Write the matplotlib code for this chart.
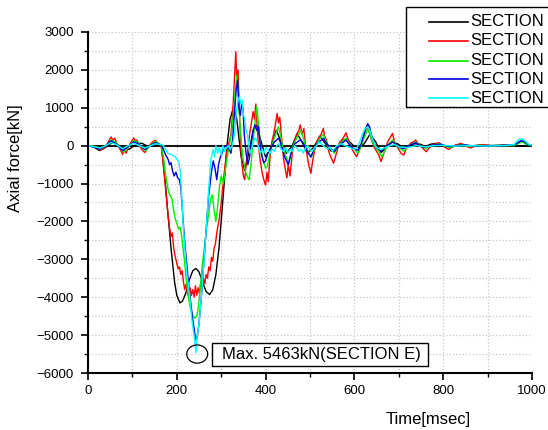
import matplotlib
matplotlib.use("Agg")
import matplotlib.pyplot as plt
from matplotlib.patches import Ellipse, Rectangle
from matplotlib.lines import Line2D
from matplotlib.ticker import MultipleLocator

plt.rcParams['font.family'] = ['Liberation Sans', 'DejaVu Sans']

# ---------------- data (time [msec], axial force [kN]) ----------------
t_a = [0, 12, 26, 38, 48, 58, 68, 80, 92, 102, 112, 122, 135, 145, 155, 165,
       170, 175, 180, 187, 195, 200, 207, 213, 220, 228, 236, 243, 250, 258, 266, 274,
       281, 288, 295, 302, 308, 313, 320, 328, 335, 345, 353, 362, 372, 380, 390, 400,
       410, 424, 435, 447, 460, 471, 482, 494, 508, 522, 535, 548, 560, 573, 585, 598,
       610, 622, 635, 648, 660, 672, 685, 697, 710, 722, 735, 748, 760, 772, 785, 798,
       815, 835, 860, 885, 910, 940, 970, 1000]
v_a = [0, -30, -130, -60, 40, 80, 20, -60, -100, -20, 60, 60, -20, 0, 20, 0,
       -500, -1100, -1800, -2700, -3600, -3950, -4150, -4100, -3900, -3550, -3300, -3240, -3330, -3600, -3850, -3930,
       -3800, -3400, -2700, -1700, -800, 0, 700, 1030, 700, -300, -650, -200, 400, 540, 100, -300,
       -100, 410, 100, -200, 0, 320, 100, -200, -50, 250, 50, -150, -50, 150, 150, 0,
       -50, 50, 300, 100, -180, -50, 100, 50, -50, 0, 50, 40, -20, 40, 60, 0,
       -20, 30, -10, 20, 0, 10, 0, 0]

t_b = [0, 10, 20, 28, 35, 42, 48, 52, 56, 60, 65, 70, 75, 78, 82, 86, 90, 95, 100, 103, 107, 110,
       115, 120, 125, 128, 132, 136, 142, 148, 152, 156, 160, 165,
       168, 172, 176, 180, 184, 187, 190, 193, 196, 200, 203, 206, 209, 212, 215, 218, 221, 224,
       227, 230, 233, 236, 239, 242, 245, 248, 251, 254, 257, 260, 263, 266, 269, 272, 275, 278,
       281, 284, 287, 290, 293, 296, 299, 302, 305, 308, 311, 315, 318,
       322, 326, 330, 333, 335, 338, 340, 343, 346, 350, 353, 356, 360, 364, 368, 372, 375, 378,
       381, 384, 388, 392, 396, 400, 403, 406, 410, 414, 418, 422, 426, 429, 432, 436, 440, 444,
       448, 451, 455, 460, 465, 470, 475, 478, 482, 486, 490, 494, 498, 502, 506, 510, 515, 520,
       525, 530, 533, 537, 541, 545, 549, 553, 557, 562, 567, 572, 577, 581, 585, 590, 595, 600,
       605, 610, 615, 620, 625, 630, 635, 640, 645, 650, 655, 660, 665, 670, 675, 680, 686, 690,
       695, 700, 705, 711, 716, 722, 728, 733, 738, 743, 748, 755, 762, 768, 775, 782, 790, 797,
       805, 812, 820, 830, 840, 848, 855, 862, 870, 880, 890, 900, 910, 920, 935, 950, 960, 968,
       975, 982, 990, 1000]
v_b = [0, -10, -50, -120, -80, 20, 150, 230, 150, 200, 60, -50, -150, -230, -120, -200, -60, 50, 150, 200, 120, 150,
       20, -80, -150, -180, -100, -40, 60, 120, 140, 80, 40, 0,
       -300, -800, -1300, -1800, -2200, -2400, -2300, -2700, -2900, -3100, -3250, -3200, -3400, -3300, -3600, -3800, -3650, -3900,
       -4000, -3750, -3950, -3800, -4000, -3700, -3950, -3750, -3900, -3600, -3800, -3500, -3650, -3400, -3500, -3200, -3300, -2950,
       -3050, -2700, -2600, -2300, -2100, -1900, -1600, -1300, -900, -600, -300, 0, 100,
       300, 900, 1800, 2480, 1700, 2000, 1200, 300, -400, -800, -900, -500, -100, 300, 600, 900, 700, 1100,
       500, 0, -400, -700, -900, -1040, -700, -950, -300, 100, 300, 550, 850, 600, 750, 200, -300, -600,
       -850, -500, -800, -200, 100, 300, 400, 550, 300, 450, 0, -300, -550, -730, -400, -150, 100, 200,
       300, 455, 250, 150, -100, -250, -350, -465, -300, -100, 100, 150, 250, 340, 200, 50, -100, -200,
       -290, -150, 0, 200, 400, 545, 300, 100, -50, -150, -250, -420, -250, -50, 100, 200, 325, 100,
       0, -100, -200, -250, -100, 0, 80, 100, 150, 60, 0, -80, -160, -60, 0, 50, 80, 20,
       -50, -100, -40, 20, 60, 20, -30, -60, -20, 10, 30, 10, -20, -10, 20, 0, 10, 60,
       120, 100, 40, 0]

t_c = [0, 15, 28, 40, 52, 62, 72, 80, 90, 103, 112, 122, 130, 140, 152, 160, 165,
       170, 174, 178, 182, 186, 189, 192, 196, 200, 204, 207, 210, 213, 217, 221, 225, 229, 233,
       237, 241, 245, 248, 251, 254, 257, 260, 264, 268, 272, 276, 280, 284, 288, 292, 296, 300,
       305, 310, 315, 320, 325, 330, 335, 338, 342, 346, 350, 355, 360, 363, 367, 371, 375, 378,
       380, 383, 387, 391, 395, 400, 404, 408, 412, 418, 424, 429, 433, 438, 443, 448, 452, 456,
       462, 468, 474, 480, 485, 490, 496, 502, 507, 513, 520, 526, 530, 535, 541, 548, 555, 562,
       570, 576, 581, 587, 595, 602, 608, 614, 620, 625, 630, 635, 640, 648, 655, 662, 668, 675,
       680, 686, 692, 700, 706, 712, 718, 725, 732, 738, 745, 752, 760, 768, 780, 790, 800, 815,
       830, 845, 860, 880, 900, 930, 960, 970, 978, 988, 1000]
v_c = [0, -20, -100, 0, 150, 100, -50, -170, -50, 130, 100, -60, -130, 0, 110, 50, 0,
       -300, -700, -1000, -1250, -1330, -1400, -1650, -1900, -2050, -2200, -2150, -2300, -2600, -3000, -3500, -3900, -4200, -4400,
       -4500, -4550, -4500, -4300, -4000, -3600, -3200, -2900, -2500, -2100, -1800, -1400, -1300, -1700, -2000, -1600, -1100, -800,
       -1000, -600, -200, 100, 500, 1200, 1860, 1500, 600, 0, -400, -700, -850, -900, -500, 0, 500, 800,
       1030, 700, 200, -200, -400, -600, -550, -300, -100, 150, 350, 500, 300, 0, -200, -350, -500, -300,
       0, 150, 300, 400, 200, 0, -150, -300, -200, 0, 150, 250, 300, 150, 0, -100, -200, -50,
       80, 150, 200, 80, -50, -120, -200, -50, 150, 300, 450, 300, 100, -50, -150, -300, -150, 0,
       80, 150, 50, -50, -100, -150, -50, 20, 60, 100, 30, -20, -80, -20, 20, 50, 0, -50,
       0, 30, -20, 10, 0, 10, 0, 60, 100, 30, 0]

t_d = [0, 28, 40, 52, 62, 78, 90, 103, 112, 128, 140, 152, 165,
       170, 175, 180, 184, 187, 190, 194, 198, 202, 206, 209, 212, 215, 219, 223, 227, 231, 235,
       238, 241, 244, 247, 250, 253, 256, 259, 262, 265, 268, 271, 275, 278, 282, 286, 290, 294,
       298, 302, 306, 312, 318, 322, 326, 330, 334, 337, 340, 343, 346, 349, 352, 356, 360, 364,
       368, 372, 376, 380, 384, 388, 392, 396, 400, 405, 410, 415, 420, 425, 429, 433, 438, 443,
       447, 451, 455, 460, 466, 472, 478, 483, 490, 496, 502, 507, 512, 520, 526, 530, 535, 542,
       548, 555, 562, 570, 576, 581, 587, 595, 602, 608, 614, 620, 625, 630, 634, 638, 643, 650,
       656, 660, 666, 672, 680, 686, 693, 700, 710, 718, 728, 738, 745, 755, 765, 780, 795, 810,
       830, 850, 870, 900, 940, 960, 968, 975, 982, 990, 1000]
v_d = [0, -90, 0, 130, 60, -130, -30, 100, 60, -100, 0, 80, 20,
       -100, -250, -350, -500, -450, -650, -800, -700, -850, -900, -1100, -1600, -2100, -2700, -3200, -3700, -4100, -4500,
       -4750, -5000, -5150, -4950, -4700, -4300, -3900, -3400, -2900, -2400, -1900, -1400, -1000, -700, -400, -600, -900, -500,
       -300, -200, -50, 0, -100, -200, 200, 900, 1500, 1730, 1000, 800, 1100, 1000, 300, -200, -500, -300,
       100, 400, 550, 400, 500, 0, -300, -450, -400, -200, -100, 0, 100, 150, 200, 100, -100, -300,
       -400, -500, -300, -100, 50, 100, 150, 100, -50, -200, -300, -150, 0, 100, 150, 200, 100, 0,
       -100, -150, -50, 50, 100, 150, 50, -50, -100, -120, 0, 250, 450, 580, 500, 300, 100, -50,
       -100, -150, -80, 0, 50, 100, 30, -30, -80, -30, 30, 80, 20, -40, -20, 20, 40, -20,
       0, 20, -10, 0, 10, 20, 80, 130, 120, 40, 0]

t_e = [0, 28, 40, 52, 62, 78, 90, 103, 128, 152, 165,
       170, 175, 180, 185, 190, 195, 200, 205, 208, 211, 214, 218, 222, 226, 230, 234, 237, 240,
       243, 245, 247, 250, 253, 256, 259, 262, 265, 268, 271, 274, 276, 278, 282, 285, 288, 292,
       296, 300, 304, 308, 312, 316, 320, 325, 330, 334, 338, 341, 344, 347, 350, 353, 356, 359,
       362, 365, 368, 372, 376, 380, 384, 388, 392, 396, 400, 405, 410, 415, 420, 425, 430, 435,
       440, 445, 450, 455, 460, 465, 470, 475, 480, 485, 490, 495, 500, 505, 510, 515, 520, 525,
       530, 535, 540, 545, 550, 555, 560, 570, 580, 590, 600, 606, 612, 618, 624, 630, 635, 640,
       645, 650, 660, 670, 680, 690, 700, 720, 740, 760, 780, 800, 830, 860, 900, 940, 960, 966,
       972, 978, 985, 992, 1000]
v_e = [0, -60, 0, 80, 40, -80, 0, 60, -60, 50, 30,
       0, -100, -200, -220, -250, -280, -350, -450, -700, -1300, -2000, -2700, -3300, -3700, -4100, -4600, -4850, -5100,
       -5463, -5100, -4950, -4700, -4300, -3900, -3400, -2900, -2400, -1900, -1300, -800, -400, -300, -100, -300, 0, -200,
       -50, -250, 0, -150, -50, 0, -100, 0, 300, 900, 1200, 1290, 1100, 1200, 800, 720, 400, 300,
       0, -200, -100, 100, 200, 150, -50, -200, -100, -200, -50, -100, -200, -100, -150, 0, 50, -100,
       -150, -50, -200, -100, -150, 0, -50, -150, -100, -200, -50, 0, -100, -150, -50, 0, 100, 50,
       0, -50, -100, -30, -150, -80, 0, 50, 0, -50, -100, -50, 100, 300, 450, 500, 400, 200,
       50, -50, -100, -50, 0, 30, -30, -50, 0, -30, 0, 10, -10, 0, -10, 0, 30, 120,
       170, 180, 120, 40, 10]

series = [
    (t_a, v_a, '#000000'),
    (t_b, v_b, '#ff0000'),
    (t_c, v_c, '#00ee00'),
    (t_d, v_d, '#0000e0'),
    (t_e, v_e, '#00ffff'),
]
legend_labels = ['SECTION', 'SECTION', 'SECTION', 'SECTION', 'SECTION']
annotation = 'Max. 5463kN(SECTION E)'
peak_t, peak_v = 246, -5500

# ---------------- figure ----------------
fig = plt.figure(figsize=(5.48, 4.30), dpi=100)
ax = fig.add_axes([88/548, 1-373/430, 444/548, 341/430])

ax.axhline(0, color='black', lw=1.3, zorder=1)
for t, v, c in series:
    ax.plot(t, v, color=c, lw=1.0, zorder=2)

ax.set_xlim(0, 1000)
ax.set_ylim(-6000, 3000)
ax.xaxis.set_major_locator(MultipleLocator(200))
ax.xaxis.set_minor_locator(MultipleLocator(100))
ax.yaxis.set_major_locator(MultipleLocator(1000))
ax.yaxis.set_minor_locator(MultipleLocator(500))
ax.grid(which='both', color='#c8c8c8', linestyle=':', linewidth=0.9)
ax.set_axisbelow(True)
for s in ['top', 'right']:
    ax.spines[s].set_visible(False)
for s in ['left', 'bottom']:
    ax.spines[s].set_linewidth(1.5)
ax.tick_params(which='major', direction='out', length=5, width=1.2, labelsize=9.5, pad=4)
ax.tick_params(which='minor', direction='out', length=3, width=1.0)
ax.tick_params(axis='y', pad=5)

ax.set_xlabel('Time[msec]', fontsize=12)
ax.set_ylabel('Axial force[kN]', fontsize=12)
ax.xaxis.set_label_coords(0.766, -0.115)
ax.yaxis.set_label_coords(-0.147, 0.63)

# annotation
ax.add_patch(Ellipse((peak_t, peak_v), 47, 480, fill=False, edgecolor='black', lw=0.9, zorder=3))
ax.add_patch(Rectangle((280, -5821), 486, 614, fill=True, facecolor='white', edgecolor='black', lw=1.0, zorder=3))
ax.text(302, -5510, annotation, fontsize=12, va='center', ha='left', zorder=4)

# manual legend (box runs off the right edge like the reference)
W, H = 548, 430
fig.add_artist(Rectangle((406/W, 1-107.3/H), 160/W, 100/H, transform=fig.transFigure,
                         fill=True, facecolor='white', edgecolor='black', lw=1.0))
rows = [21.7, 40.7, 60.7, 79.3, 98.3]
for (t, v, c), y, lab in zip(series, rows, legend_labels):
    fig.add_artist(Line2D([429/W, 468/W], [1-y/H, 1-y/H], transform=fig.transFigure, color=c, lw=1.2))
    fig.text(470/W, 1-y/H, lab, fontsize=12, va='center', ha='left')

fig.savefig('out.png', dpi=100)
